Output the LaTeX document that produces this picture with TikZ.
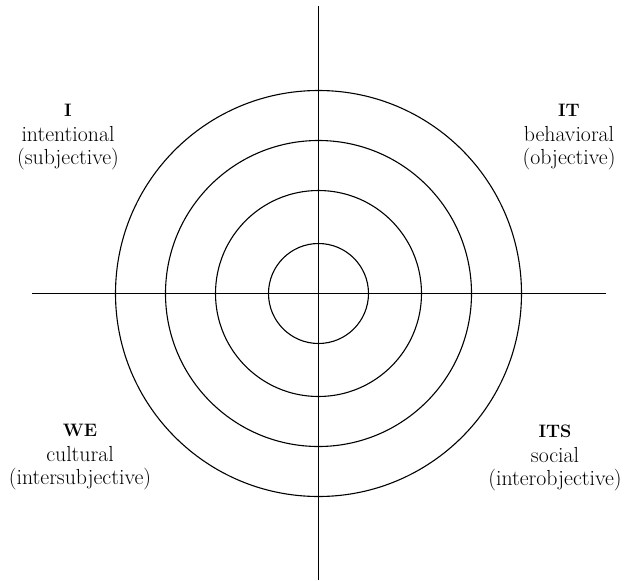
\documentclass[tikz,border=0pt]{standalone}
\usetikzlibrary{calc}

\newcommand{\quadhead}[1]{{\fontsize{18}{23}\selectfont\bfseries #1}}

\begin{document}
\begin{tikzpicture}[x=1pt, y=-1pt, line width=1.1pt,
    quadrant/.style={align=center, inner sep=0pt, anchor=north,
      font=\fontsize{21.8}{23}\selectfont}]
  \useasboundingbox (0,0) rectangle (630,581);

  % axes and rings
  \coordinate (o) at (318.5,293.5);
  \coordinate (top) at (318.5,6);
  \coordinate (bottom) at (318.5,580);
  \coordinate (left) at (32,293.5);
  \coordinate (right) at (606,293.5);
  \draw (top) -- (bottom);
  \draw (left) -- (right);
  \foreach \r in {50,103,153,203}
    \draw (o) circle [radius=\r pt];

  % quadrant labels
  \node[quadrant] (upperleft) at (68,104)
    {\quadhead{I}\\[2pt] intentional\\ (subjective)};
  \node[quadrant] (upperright) at (569,104)
    {\quadhead{IT}\\[2pt] behavioral\\ (objective)};
  \node[quadrant] (lowerleft) at (80,424)
    {\quadhead{WE}\\[2pt] cultural\\ (intersubjective)};
  \node[quadrant] (lowerright) at (555,424)
    {\quadhead{ITS}\\[2pt] social\\ (interobjective)};
\end{tikzpicture}
\end{document}
